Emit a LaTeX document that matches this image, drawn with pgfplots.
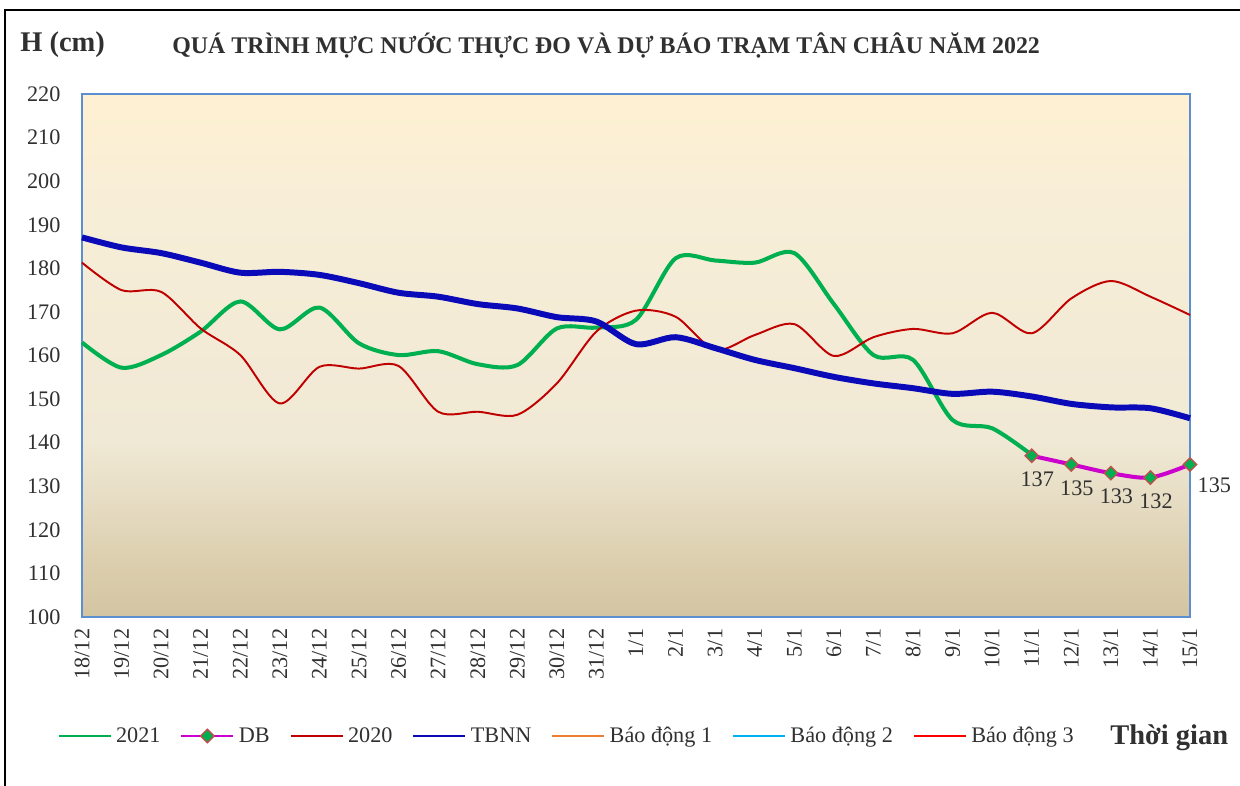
\documentclass[border=0pt]{standalone}
\usepackage{fontspec}
\setmainfont{Liberation Serif}
\usepackage{pgfplots}
\pgfplotsset{compat=1.18}

\definecolor{c2021}{HTML}{00B050}
\definecolor{cdb}{HTML}{CC00CC}
\definecolor{c2020}{HTML}{C00000}
\definecolor{ctbnn}{HTML}{0A0AB8}
\definecolor{cbd1}{HTML}{ED7D31}
\definecolor{cbd2}{HTML}{00B0F0}
\definecolor{cbd3}{HTML}{FF0000}
\definecolor{medge}{HTML}{C0504D}
\definecolor{axblue}{HTML}{5B8FD0}
\definecolor{txt}{HTML}{303030}
\definecolor{bg0}{HTML}{D3C5A2}
\definecolor{bg1}{HTML}{DCCFAF}
\definecolor{bg2}{HTML}{E6DCC3}
\definecolor{bg3}{HTML}{F0E9D5}
\definecolor{bg4}{HTML}{F4EBD6}
\definecolor{bg5}{HTML}{F7EED8}
\definecolor{bg6}{HTML}{FEF0D2}
% tikz maps the path onto the 25bp-75bp band of the shading
\pgfdeclareverticalshading{bgshade}{100bp}{color(0bp)=(bg0); color(25bp)=(bg0); color(30.5bp)=(bg1); color(36bp)=(bg2); color(42bp)=(bg3); color(52.5bp)=(bg4); color(63.5bp)=(bg5); color(75bp)=(bg6); color(100bp)=(bg6)}

\begin{document}
\begin{tikzpicture}
\path[use as bounding box] (0pt,0pt) rectangle (892.8pt,-565.2pt);
\begin{axis}[
  at={(59.04pt,-444.24pt)}, anchor=south west,
  scale only axis, width=797.76pt, height=376.56pt,
  xmin=0, xmax=28, ymin=100, ymax=220,
  ytick={100,110,...,220},
  xtick={0,...,28},
  xticklabels={18/12,19/12,20/12,21/12,22/12,23/12,24/12,25/12,26/12,27/12,28/12,29/12,30/12,31/12,1/1,2/1,3/1,4/1,5/1,6/1,7/1,8/1,9/1,10/1,11/1,12/1,13/1,14/1,15/1},
  major tick length=0pt,
  axis line style={draw=axblue, line width=1.1pt},
  axis background/.style={shade, shading=bgshade},
  tick label style={font=\fontsize{16}{16}\selectfont, text=txt},
  /pgf/number format/assume math mode=true,
  xticklabel style={rotate=90, anchor=east},
  xticklabel shift=5pt,
  yticklabel shift=12pt,
  clip=false,
  legend columns=7,
  legend style={draw=none, fill=none, at={(-0.022,-0.2275)}, anchor=west,
    inner sep=0pt, outer sep=0pt,
    font=\fontsize{16}{16}\selectfont, text=txt,
    nodes={inner xsep=3.3pt},
    /tikz/every even column/.append style={column sep=11pt}},
  legend image code/.code={\draw[#1, line width=1.4pt, mark repeat=2, mark phase=2] plot coordinates {(0pt,0pt) (18.7pt,0pt) (37.4pt,0pt)};},
]
\addplot[c2021, line width=2.9pt, smooth] coordinates {
(0,163) (1,157.2) (2,160.1) (3,165.5) (4,172.4) (5,166) (6,171) (7,162.8)
(8,160.1) (9,161) (10,158) (11,157.8) (12,166.2) (13,166.4) (14,168.2)
(15,182.3) (16,181.8) (17,181.3) (18,183.5) (19,171.8) (20,160.1) (21,159)
(22,145.2) (23,143.3) (24,137.2)
};
\addlegendentry{2021}
\addplot[cdb, line width=2.9pt, smooth, mark=square*, mark size=3.4pt,
  mark options={fill=c2021, draw=medge, line width=1pt, rotate=45}] coordinates {
(24,137) (25,135) (26,133) (27,132) (28,135)
};
\addlegendentry{DB}
\addplot[c2020, line width=1.4pt, smooth] coordinates {
(0,181.3) (1,175) (2,174.6) (3,166.2) (4,160.1) (5,149) (6,157.4) (7,157)
(8,157.6) (9,147.1) (10,147.1) (11,146.4) (12,153.6) (13,165.5) (14,170.3)
(15,168.9) (16,161.3) (17,164.7) (18,167.2) (19,159.9) (20,164.2) (21,166.1)
(22,165.1) (23,169.8) (24,165.1) (25,173.1) (26,177.1) (27,173.5) (28,169.3)
};
\addlegendentry{2020}
\addplot[ctbnn, line width=4.3pt, smooth] coordinates {
(0,187.1) (1,184.8) (2,183.5) (3,181.3) (4,179) (5,179.2) (6,178.5) (7,176.6)
(8,174.4) (9,173.5) (10,171.8) (11,170.8) (12,168.8) (13,167.8) (14,162.6)
(15,164.2) (16,161.7) (17,159) (18,157.1) (19,155.1) (20,153.6) (21,152.5)
(22,151.2) (23,151.7) (24,150.6) (25,148.9) (26,148.1) (27,147.9) (28,145.6)
};
\addlegendentry{TBNN}
\addlegendimage{cbd1}\addlegendentry{Báo động 1}
\addlegendimage{cbd2}\addlegendentry{Báo động 2}
\addlegendimage{cbd3}\addlegendentry{Báo động 3}
% DB value labels
\addplot[draw=none, mark=none, forget plot, nodes near coords,
  nodes near coords align={below},
  every node near coord/.append style={font=\fontsize{16}{16}\selectfont, text=txt, xshift=4pt, yshift=-8pt}]
  coordinates {(24,137) (25,135) (26,133) (27,132)};
\addplot[draw=none, mark=none, forget plot, nodes near coords,
  every node near coord/.append style={font=\fontsize{16}{16}\selectfont, text=txt, anchor=north west, xshift=2pt, yshift=-6pt}]
  coordinates {(28,135)};
\end{axis}
\begin{scope}[x=0.72pt, y=-0.72pt]
\draw[line width=1.5pt, black] (5,800) -- (5,10) -- (1250,10);
\node[anchor=west, inner sep=0pt, text=txt, font=\bfseries\fontsize{20.5}{20}\selectfont] at (20,45) {H (cm)};
\node[anchor=west, inner sep=0pt, text=txt, font=\bfseries\fontsize{17.2}{17}\selectfont] at (172,45) {QUÁ TRÌNH MỰC NƯỚC THỰC ĐO VÀ DỰ BÁO TRẠM TÂN CHÂU NĂM 2022};
\node[anchor=west, inner sep=0pt, text=txt, font=\bfseries\fontsize{20.5}{20}\selectfont] at (1110,738) {Thời gian};
\end{scope}
\end{tikzpicture}
\end{document}
